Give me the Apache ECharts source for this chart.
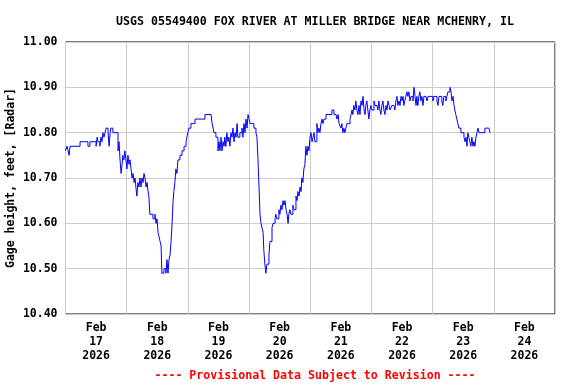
<!DOCTYPE html>
<html>
<head>
<meta charset="utf-8">
<script src="https://cdn.jsdelivr.net/npm/echarts@6/dist/echarts.min.js"></script>
<style>html,body{margin:0;padding:0;background:#fff}#c{width:576px;height:384px}</style>
</head>
<body>
<div id="c"></div>
<script>
// Hours since 2026-02-17 00:00 (local), and gage height (ft)
var obsHours = [0,0.6,1.0,1.4,1.8,5.7,8.8,9.6,12.0,12.4,12.7,13.5,13.9,14.3,14.7,15.1,15.5,15.9,16.7,17.1,17.5,17.8,18.6,20.6,21.0,21.4,21.8,22.2,22.5,22.9,23.3,23.7,
24.1,24.5,24.9,25.3,25.7,26.1,26.5,26.9,27.3,27.6,28.0,28.4,28.8,29.2,29.6,30.0,30.4,30.8,31.2,31.6,32.0,32.4,32.7,33.1,34.3,35.1,35.5,35.9,36.3,36.7,37.1,37.5,37.8,38.6,39.4,39.8,40.2,40.6,41.0,41.4,41.8,42.2,42.5,42.9,43.3,43.7,44.1,44.9,45.7,46.5,47.3,47.6,
48.0,48.4,49.2,50.0,50.8,53.9,54.7,57.1,57.5,57.9,58.2,59.0,59.8,60.2,60.6,61.0,61.4,61.8,62.2,62.5,62.9,63.3,63.7,64.1,64.5,64.9,65.3,65.7,66.1,66.5,66.9,67.3,67.6,68.4,69.2,69.6,70.0,70.4,70.8,71.2,71.6,
72.0,72.4,73.1,73.9,74.7,75.1,75.5,75.9,76.3,76.7,77.1,77.5,77.8,78.2,78.6,79.0,79.8,80.2,81.0,81.4,82.2,82.5,82.9,83.7,84.1,84.5,84.9,85.3,85.7,86.1,86.5,86.9,87.3,87.6,88.0,88.4,89.2,89.6,90.4,90.8,91.2,91.6,92.0,92.4,92.7,93.1,93.5,93.9,94.3,94.7,95.1,95.5,95.9,
96.3,96.7,97.1,97.5,97.8,98.6,99.0,99.4,99.8,100.2,100.6,101.0,101.4,102.2,104.5,105.3,106.1,106.5,106.9,107.3,107.6,108.0,108.4,108.8,109.2,109.6,110.0,110.4,110.8,111.6,112.0,112.4,112.7,113.1,113.5,113.9,114.3,114.7,115.1,115.5,115.9,116.3,116.7,117.1,117.5,117.8,118.2,118.6,119.0,119.4,119.8,
120.2,121.0,121.4,122.2,122.5,122.9,123.3,123.7,124.1,124.5,124.9,125.3,125.7,126.1,126.5,126.9,127.3,128.0,128.8,129.2,129.6,130.0,130.4,130.8,131.2,131.6,132.0,132.4,132.7,133.1,133.5,133.9,134.3,134.7,135.1,135.5,135.9,136.3,136.7,137.1,137.5,137.8,138.2,138.6,139.0,139.4,139.8,140.2,140.6,141.4,141.8,142.2,142.9,144.1,144.5,145.7,146.1,146.5,147.6,148.0,148.4,149.2,149.6,150.0,150.8,151.2,151.6,152.0,152.4,152.7,153.1,153.5,153.9,154.3,155.1,156.3,156.7,157.1,157.5,157.8,158.2,158.6,159.0,159.4,159.8,160.2,160.6,161.0,161.4,161.8,162.2,164.5,166.1,166.5];
var gageFt = [10.76,10.77,10.76,10.75,10.77,10.78,10.77,10.78,10.77,10.79,10.78,10.77,10.79,10.78,10.80,10.79,10.80,10.81,10.80,10.77,10.80,10.81,10.80,10.76,10.78,10.74,10.71,10.73,10.75,10.74,10.76,10.74,
10.72,10.75,10.73,10.74,10.72,10.70,10.71,10.69,10.70,10.68,10.66,10.69,10.68,10.70,10.68,10.70,10.69,10.71,10.70,10.68,10.69,10.67,10.66,10.62,10.61,10.62,10.60,10.61,10.58,10.57,10.56,10.55,10.49,10.50,10.49,10.52,10.49,10.52,10.53,10.56,10.60,10.65,10.67,10.69,10.72,10.71,10.74,10.75,10.76,10.77,10.78,10.79,
10.80,10.81,10.82,10.82,10.83,10.83,10.84,10.84,10.82,10.81,10.80,10.79,10.76,10.78,10.76,10.79,10.76,10.78,10.77,10.79,10.77,10.80,10.78,10.79,10.77,10.80,10.79,10.81,10.78,10.80,10.79,10.82,10.79,10.80,10.81,10.79,10.82,10.80,10.83,10.81,10.84,
10.83,10.82,10.82,10.81,10.80,10.79,10.74,10.68,10.62,10.60,10.59,10.58,10.54,10.51,10.49,10.51,10.53,10.56,10.59,10.60,10.61,10.62,10.61,10.63,10.62,10.64,10.63,10.65,10.64,10.65,10.63,10.62,10.60,10.62,10.63,10.62,10.64,10.63,10.66,10.65,10.67,10.66,10.68,10.67,10.70,10.69,10.72,10.73,10.77,10.75,10.77,10.76,10.79,
10.80,10.78,10.79,10.80,10.78,10.82,10.80,10.81,10.80,10.82,10.83,10.82,10.83,10.84,10.85,10.84,10.84,10.83,10.84,10.82,10.82,10.81,10.82,10.80,10.81,10.80,10.81,10.82,10.82,10.83,10.84,10.85,10.84,10.86,10.85,10.87,10.85,10.84,10.86,10.84,10.87,10.86,10.88,10.85,10.84,10.86,10.87,10.85,10.83,10.85,10.86,
10.85,10.87,10.86,10.86,10.85,10.87,10.85,10.84,10.86,10.87,10.85,10.84,10.86,10.85,10.87,10.86,10.85,10.86,10.86,10.85,10.87,10.88,10.86,10.87,10.86,10.88,10.87,10.88,10.86,10.87,10.88,10.89,10.88,10.89,10.87,10.88,10.88,10.87,10.90,10.88,10.86,10.88,10.86,10.88,10.89,10.87,10.88,10.86,10.88,10.88,10.87,10.88,10.88,10.87,10.88,10.87,10.86,10.88,10.87,10.86,10.88,10.87,10.88,10.89,10.90,10.89,10.87,10.88,10.86,10.85,10.84,10.83,10.82,10.81,10.80,10.79,10.78,10.79,10.77,10.80,10.79,10.78,10.77,10.79,10.77,10.78,10.77,10.79,10.80,10.81,10.80,10.81,10.81,10.80];

var dayNames = ['17','18','19','20','21','22','23','24'];
var yTicks = [10.40,10.50,10.60,10.70,10.80,10.90,11.00];
var titleText = 'USGS 05549400 FOX RIVER AT MILLER BRIDGE NEAR MCHENRY, IL';
var yName = 'Gage height, feet, [Radar]';
var footText = '---- Provisional Data Subject to Revision ----';

var FONT = 'DejaVu Sans Mono';
var seriesData = obsHours.map(function (h, i) { return [h, gageFt[i]]; });

var chart = echarts.init(document.getElementById('c'), null, {renderer: 'canvas'});
chart.setOption({
  animation: false,
  backgroundColor: '#ffffff',
  title: [
    {text: titleText, left: 310, top: 11, textAlign: 'center',
     textStyle: {fontFamily: FONT, fontWeight: 'bold', fontSize: 11.6, color: '#000'}},
    {text: footText, left: 310, top: 365, textAlign: 'center',
     textStyle: {fontFamily: FONT, fontWeight: 'bold', fontSize: 11.6, color: '#ff0000'}}
  ],
  grid: {left: 65.5, right: 21, top: 42, bottom: 70, containLabel: false, outerBoundsMode: 'none',
         show: true, borderColor: '#000', borderWidth: 1, backgroundColor: 'transparent'},
  xAxis: [
    {type: 'value', min: 0, max: dayNames.length * 24, interval: 24,
     axisLine: {show: false}, axisTick: {show: false}, axisLabel: {show: false},
     splitLine: {show: true, lineStyle: {color: '#cccccc', width: 1}}},
    {type: 'value', min: 0, max: dayNames.length * 24, interval: 12, position: 'bottom',
     axisLine: {show: false}, axisTick: {show: false}, splitLine: {show: false},
     axisLabel: {show: true, margin: 7, fontFamily: FONT, fontWeight: 'bold', fontSize: 11.5, lineHeight: 14, color: '#000',
       formatter: function (v) {
         if (Math.round(v) % 24 !== 12) return '';
         var d = Math.floor(v / 24);
         return 'Feb\n' + dayNames[d] + '\n2026';
       }}}
  ],
  yAxis: {
    type: 'value', min: yTicks[0], max: yTicks[yTicks.length - 1], interval: 0.1,
    name: yName, nameLocation: 'middle', nameGap: 48, nameRotate: 90, nameMoveOverlap: false,
    nameTextStyle: {fontFamily: FONT, fontWeight: 'bold', fontSize: 11.5, color: '#000'},
    axisLine: {show: false}, axisTick: {show: false},
    axisLabel: {margin: 8, fontFamily: FONT, fontWeight: 'bold', fontSize: 11.5, color: '#000',
      formatter: function (v) { return v.toFixed(2); }},
    splitLine: {show: true, lineStyle: {color: '#cccccc', width: 1}}
  },
  series: [{
    type: 'line', xAxisIndex: 0, data: seriesData, step: 'end', showSymbol: false, symbol: 'none',
    lineStyle: {color: '#0000ff', width: 1}, silent: true
  }]
});
</script>
</body>
</html>
